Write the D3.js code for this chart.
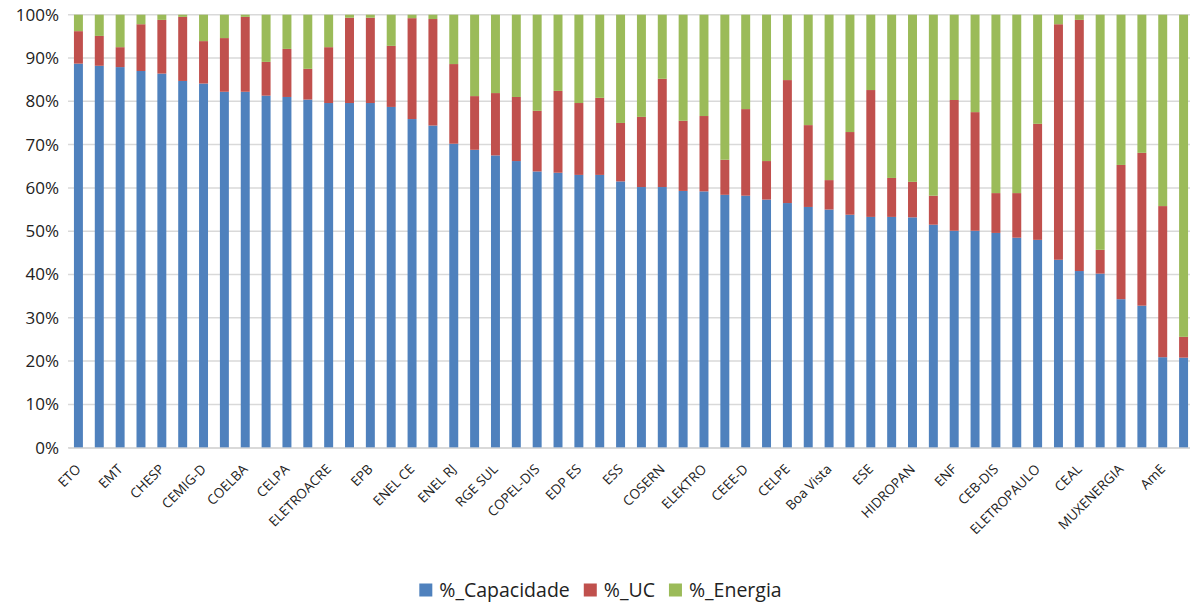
<!DOCTYPE html>
<html>
<head>
<meta charset="utf-8">
<script src="https://cdn.jsdelivr.net/npm/d3@7"></script>
<style>
  body { margin: 0; background: #fff; }
  svg { display: block; font-family: "Open Sans", sans-serif; }
</style>
</head>
<body>
<svg id="chart" width="1190" height="602"></svg>
<script>
// labels shown on the axis (every other bar carries a label)
const labels = ["ETO", "EMT", "CHESP", "CEMIG-D", "COELBA", "CELPA", "ELETROACRE", "EPB",
  "ENEL CE", "ENEL RJ", "RGE SUL", "COPEL-DIS", "EDP ES", "ESS", "COSERN", "ELEKTRO",
  "CEEE-D", "CELPE", "Boa Vista", "ESE", "HIDROPAN", "ENF", "CEB-DIS", "ELETROPAULO",
  "CEAL", "MUXENERGIA", "AmE"];

// % share per bar (54 bars)
const capacidade = [88.7, 88.2, 87.9, 87.0, 86.4, 84.7, 84.1, 82.2, 82.2, 81.3,
  81.0, 80.4, 79.6, 79.6, 79.6, 78.7, 75.9, 74.4, 70.2, 68.8,
  67.5, 66.2, 63.8, 63.5, 63.0, 63.0, 61.5, 60.2, 60.2, 59.3,
  59.2, 58.4, 58.2, 57.3, 56.5, 55.6, 55.0, 53.8, 53.3, 53.3,
  53.2, 51.5, 50.1, 50.1, 49.6, 48.5, 48.0, 43.4, 40.8, 40.2,
  34.3, 32.8, 20.9, 20.8];
const uc = [7.5, 6.9, 4.6, 10.8, 12.4, 14.8, 9.8, 12.4, 17.3, 7.8,
  11.1, 7.1, 12.9, 19.7, 19.7, 14.1, 23.3, 24.6, 18.4, 12.4,
  14.4, 14.8, 14.0, 18.9, 16.6, 17.8, 13.5, 16.2, 25.0, 16.2,
  17.4, 8.1, 20.0, 8.9, 28.4, 18.9, 6.8, 19.1, 29.3, 9.0,
  8.2, 6.7, 30.2, 27.4, 9.2, 10.3, 26.8, 54.4, 58.0, 5.5,
  31.0, 35.3, 34.9, 4.8];
const energia = capacidade.map((c, i) => Math.max(0, 100 - c - uc[i]));

const seriesNames = ["%_Capacidade", "%_UC", "%_Energia"];
const colors = ["#4f81bd", "#c0504d", "#9bbb59"];
const yTicks = [0, 10, 20, 30, 40, 50, 60, 70, 80, 90, 100];

const data = capacidade.map((c, i) => ({ idx: i, "%_Capacidade": c, "%_UC": uc[i], "%_Energia": energia[i] }));

const svg = d3.select("#chart");

let x = d3.scaleBand()
  .domain(d3.range(capacidade.length))
  .range([68, 1194])
  .paddingInner(0.57)
  .paddingOuter(0.285);

let y = d3.scaleLinear()
  .domain([0, 100])
  .range([447.7, 14.7]);

// gridlines
svg.append("g")
  .selectAll("line")
  .data(yTicks)
  .enter().append("line")
    .attr("x1", 68)
    .attr("x2", 1190)
    .attr("y1", d => y(d))
    .attr("y2", d => y(d))
    .attr("stroke", "#d9d9d9")
    .attr("stroke-width", 1.5);

// y axis labels
let yAxis = svg.append("g")
  .attr("transform", "translate(68,0)")
  .call(d3.axisLeft(y).tickValues(yTicks).tickFormat(d => d + "%").tickSize(0).tickPadding(9));
yAxis.select(".domain").remove();
yAxis.selectAll("text")
  .style("font-size", "17px")
  .style("font-family", "'Open Sans', sans-serif")
  .attr("fill", "#222");

// stacked bars
let stacked = d3.stack().keys(seriesNames)(data);

svg.append("g")
  .selectAll("g")
  .data(stacked)
  .enter().append("g")
  .attr("fill", (d, i) => colors[i])
  .selectAll("rect")
  .data(d => d)
  .enter().append("rect")
    .attr("x", d => x(d.data.idx))
    .attr("y", d => y(d[1]))
    .attr("height", d => y(d[0]) - y(d[1]))
    .attr("width", x.bandwidth());

// x axis
let xAxis = svg.append("g")
  .attr("transform", "translate(0," + y(0) + ")")
  .call(d3.axisBottom(x)
    .tickValues(d3.range(0, capacidade.length, 2))
    .tickFormat(i => labels[i / 2] || "")
    .tickSize(0)
    .tickSizeOuter(0));
xAxis.select(".domain").attr("stroke", "#d9d9d9").attr("stroke-width", 1.5);
xAxis.selectAll("text")
  .style("font-size", "13.5px")
  .style("font-family", "'Open Sans', sans-serif")
  .attr("fill", "#222")
  .attr("text-anchor", "end")
  .attr("dy", "0.35em")
  .attr("transform", "translate(0,19) rotate(-45)")
  .attr("y", 0)
  .attr("x", 0);

// legend, centred under the chart
let legend = svg.append("g");
let lx = 0;
seriesNames.forEach((name, i) => {
  let item = legend.append("g").attr("transform", "translate(" + lx + ",0)");
  item.append("rect")
    .attr("x", 0).attr("y", -6.5)
    .attr("width", 13).attr("height", 13)
    .attr("fill", colors[i]);
  let t = item.append("text")
    .attr("x", 20).attr("y", 0).attr("dy", "0.35em")
    .style("font-size", "19.5px")
    .attr("fill", "#222")
    .text(name);
  lx += 20 + t.node().getComputedTextLength() + 14;
});
lx -= 14;
legend.attr("transform", "translate(" + (600.5 - lx / 2) + ",590)");
</script>
</body>
</html>
